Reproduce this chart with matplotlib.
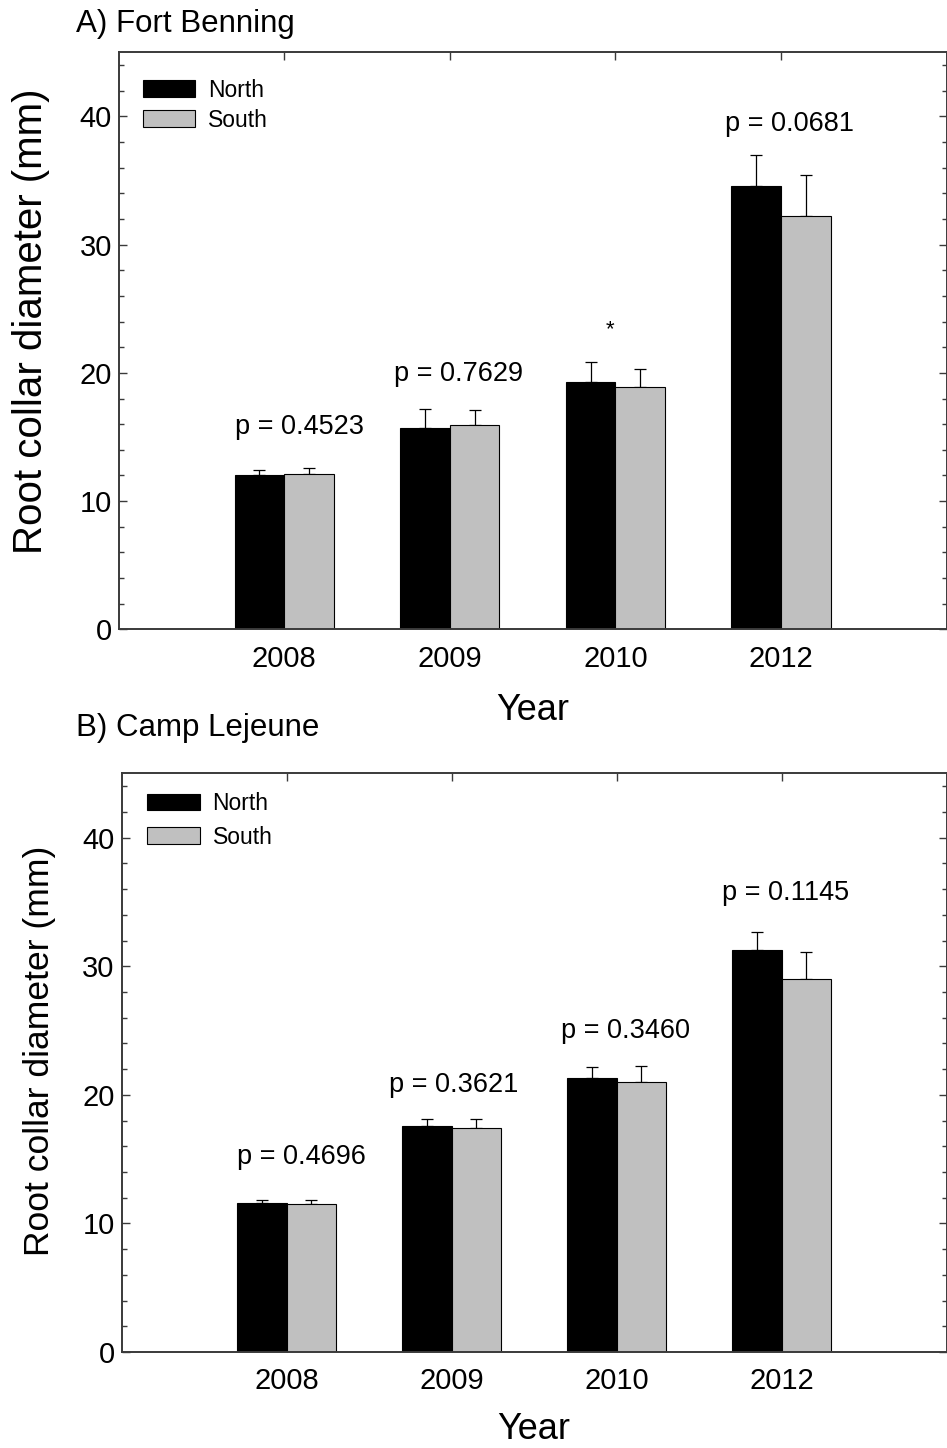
import matplotlib
matplotlib.use("Agg")
import matplotlib.pyplot as plt
import numpy as np
from matplotlib.ticker import MultipleLocator

plt.rcParams['font.family'] = ['Liberation Sans', 'DejaVu Sans']

years = ['2008', '2009', '2010', '2012']

# A) Fort Benning
fb_north = [12.0, 15.7, 19.25, 34.6]
fb_north_se = [0.4, 1.5, 1.6, 2.4]
fb_south = [12.1, 15.9, 18.9, 32.2]
fb_south_se = [0.5, 1.2, 1.4, 3.2]
fb_labels = ['p = 0.4523', 'p = 0.7629', '*', 'p = 0.0681']
fb_label_y = [15.8, 19.9, 23.4, 39.4]

# B) Camp Lejeune
cl_north = [11.6, 17.6, 21.3, 31.3]
cl_north_se = [0.25, 0.5, 0.85, 1.35]
cl_south = [11.5, 17.4, 21.0, 29.0]
cl_south_se = [0.35, 0.7, 1.25, 2.1]
cl_labels = ['p = 0.4696', 'p = 0.3621', 'p = 0.3460', 'p = 0.1145']
cl_label_y = [15.2, 20.75, 25.0, 35.7]

W, H = 947, 1448
fig = plt.figure(figsize=(W / 100, H / 100), dpi=100)

spine_col = '#3a3a3a'


def panel(rect, north, nse, south, sse, labels, label_y, label_dx, title, title_y,
          ylab_size, ylab_xy, leg_anchor, leg_spacing, xlab_pad):
    ax = fig.add_axes(rect)
    x = np.arange(1, len(years) + 1)
    w = 0.3
    ax.bar(x - w / 2, north, w, color='black', edgecolor='black', linewidth=0.8,
           label='North', zorder=2)
    ax.bar(x + w / 2, south, w, color='#c0c0c0', edgecolor='black', linewidth=0.8,
           label='South', zorder=2)
    ax.errorbar(x - w / 2, north, yerr=[np.zeros(len(nse)), nse], fmt='none',
                ecolor='black', elinewidth=0.9, capsize=4.5, capthick=0.9, zorder=1)
    ax.errorbar(x + w / 2, south, yerr=[np.zeros(len(sse)), sse], fmt='none',
                ecolor='black', elinewidth=0.9, capsize=4.5, capthick=0.9, zorder=1)
    for xi, lab, ly, dx in zip(x, labels, label_y, label_dx):
        fs = 16 if lab == '*' else 19.5
        ax.text(xi + dx, ly, lab, ha='center', va='center', fontsize=fs)
    ax.set_xlim(0, 5)
    ax.set_ylim(0, 45)
    ax.set_xticks(x)
    ax.set_xticklabels(years)
    ax.yaxis.set_major_locator(MultipleLocator(10))
    ax.yaxis.set_minor_locator(MultipleLocator(2))
    ax.tick_params(axis='y', which='major', direction='in', length=6, width=1,
                   color=spine_col, labelsize=21, pad=5, right=True)
    ax.tick_params(axis='y', which='minor', direction='in', length=3.5, width=1,
                   color=spine_col, right=True)
    ax.tick_params(axis='x', which='major', direction='in', length=6, width=1,
                   color=spine_col, labelsize=21, pad=11, top=True)
    for s in ax.spines.values():
        s.set_color(spine_col)
        s.set_linewidth(1.4)
    ax.set_xlabel('Year', fontsize=26, labelpad=xlab_pad)
    ax.set_ylabel('Root collar diameter (mm)', fontsize=ylab_size)
    ax.yaxis.set_label_coords(*ylab_xy)
    ax.legend(loc='upper left', bbox_to_anchor=leg_anchor, frameon=False,
              fontsize=16.5, handlelength=2.3, handleheight=0.75,
              labelspacing=leg_spacing, handletextpad=0.55,
              borderaxespad=0, borderpad=0)
    fig.text(76 / W, 1 - title_y / H, title, fontsize=22.5, ha='left', va='center')
    return ax


ax1 = panel([118.7 / W, 1 - 629.3 / H, (946.5 - 118.7) / W, (629.3 - 52.3) / H],
            fb_north, fb_north_se, fb_south, fb_south_se, fb_labels, fb_label_y,
            [0.095, 0.055, -0.03, 0.05], 'A) Fort Benning', 24,
            29, (-0.0824, 0.534), (0.029, 0.954), 0.3, 15)

ax2 = panel([121.6 / W, 1 - 1352 / H, (946.5 - 121.6) / W, (1352 - 773.4) / H],
            cl_north, cl_north_se, cl_south, cl_south_se, cl_labels, cl_label_y,
            [0.093, 0.015, 0.057, 0.026], 'B) Camp Lejeune', 728,
            25.5, (-0.080, 0.52), (0.031, 0.968), 0.47, 12)

fig.savefig('out.png', dpi=100)
